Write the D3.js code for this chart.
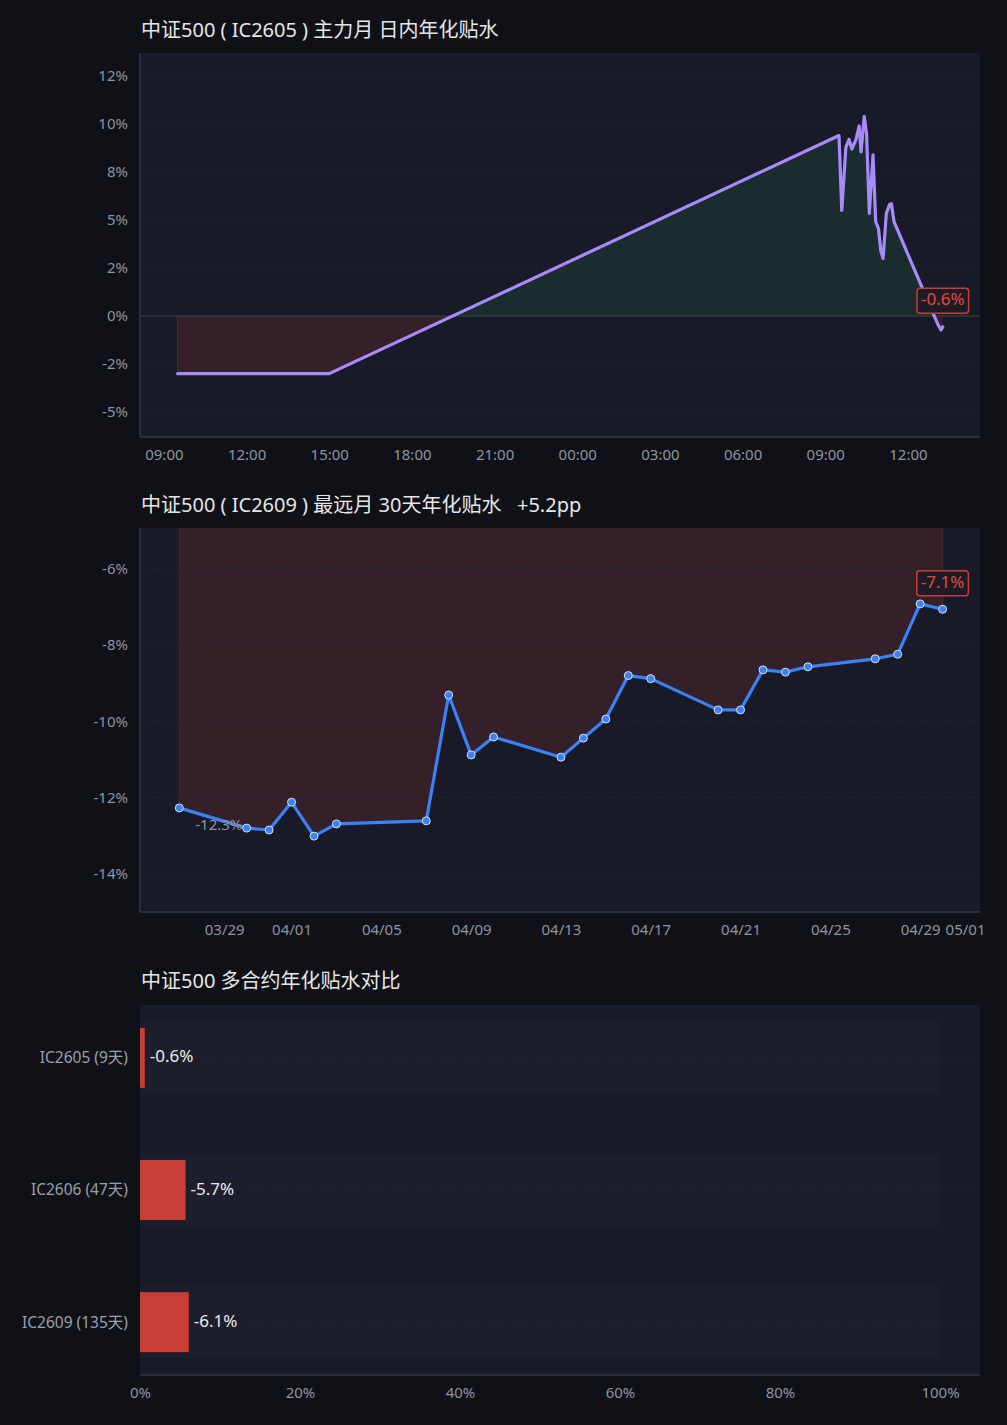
<!DOCTYPE html>
<html>
<head>
<meta charset="utf-8">
<script src="https://cdn.jsdelivr.net/npm/d3@7"></script>
<style>
  body { margin: 0; background: #0f1116; }
  svg { display: block; font-family: "Noto Sans", "Noto Sans CJK SC", sans-serif; }
</style>
</head>
<body>
<div id="wrapper"></div>
<script>
// 1. Data

// intraday annualised basis, IC2605 (two sessions, night gap drawn straight)
const intradayTimes = [
  "2026-04-29 09:30", "2026-04-29 15:00",
  "2026-04-30 09:30", "2026-04-30 09:36", "2026-04-30 09:45", "2026-04-30 09:52",
  "2026-04-30 09:58", "2026-04-30 10:07", "2026-04-30 10:14", "2026-04-30 10:18",
  "2026-04-30 10:25", "2026-04-30 10:30", "2026-04-30 10:36", "2026-04-30 10:44",
  "2026-04-30 10:50", "2026-04-30 10:56", "2026-04-30 11:01", "2026-04-30 11:06",
  "2026-04-30 11:13", "2026-04-30 11:20", "2026-04-30 11:24", "2026-04-30 11:30",
  "2026-04-30 13:00", "2026-04-30 13:06", "2026-04-30 13:12", "2026-04-30 13:16"
]
const intradayValues = [
  -3.0, -3.0,
  9.4, 5.5, 8.8, 9.2,
  8.7, 9.2, 9.9, 8.55,
  10.4, 9.5, 5.35, 8.4,
  4.9, 4.55, 3.4, 3.0,
  5.35, 5.8, 5.85, 4.9,
  -0.15, -0.47, -0.73, -0.56
]
const intradayTickValues = [-5, -2.5, 0, 2.5, 5, 7.5, 10, 12.5]
const intradayTickLabels = ["-5%", "-2%", "0%", "2%", "5%", "8%", "10%", "12%"]

// 30-day annualised basis, IC2609
const farDates = [
  "2026-03-27", "2026-03-30", "2026-03-31", "2026-04-01", "2026-04-02", "2026-04-03",
  "2026-04-07", "2026-04-08", "2026-04-09", "2026-04-10", "2026-04-13", "2026-04-14",
  "2026-04-15", "2026-04-16", "2026-04-17", "2026-04-20", "2026-04-21", "2026-04-22",
  "2026-04-23", "2026-04-24", "2026-04-27", "2026-04-28", "2026-04-29", "2026-04-30"
]
const farValues = [
  -12.27, -12.80, -12.85, -12.12, -13.01, -12.69,
  -12.61, -9.31, -10.88, -10.41, -10.94, -10.44,
  -9.94, -8.80, -8.88, -9.70, -9.70, -8.65,
  -8.71, -8.57, -8.36, -8.24, -6.92, -7.06
]
const farTickValues = [-14, -12, -10, -8, -6]

// contract comparison
const contracts = ["IC2605 (9天)", "IC2606 (47天)", "IC2609 (135天)"]
const contractValues = [-0.6, -5.7, -6.1]
const barTickValues = [0, 20, 40, 60, 80, 100]

// 2. Dimensions & colours

const width = 1007
const height = 1425
const plotLeft = 140
const plotRight = 980

const colors = {
  page: "#0f1116",
  plot: "#181b27",
  axis: "#2b2e3b",
  grid: "#242835",
  tick: "#8e94a3",
  title: "#e6e6e6",
  purple: "#a78bfa",
  blue: "#3b82f6",
  red: "#c73e36",
  redText: "#e5483d",
  posFill: "#1a2c2e",
  negFill: "#35202a",
  track: "#1c1f2b",
}

const parseTime = d3.timeParse("%Y-%m-%d %H:%M")
const parseDay = d3.timeParse("%Y-%m-%d")
// plain hyphen for negatives, as in the source chart
const locale = d3.formatLocale({ decimal: ".", thousands: ",", grouping: [3], currency: ["", ""], minus: "-" })
const fmt1 = locale.format(".1f")

const svg = d3.select("#wrapper")
  .append("svg")
    .attr("width", width)
    .attr("height", height)

svg.append("rect")
    .attr("width", width)
    .attr("height", height)
    .attr("fill", colors.page)

const defs = svg.append("defs")

function drawTitle(text, y) {
  svg.append("text")
      .attr("x", 141)
      .attr("y", y)
      .attr("dominant-baseline", "middle")
      .attr("fill", colors.title)
      .style("font-size", "20px")
      .style("white-space", "pre")
      .text(text)
}

function drawPlotBg(top, bottom) {
  svg.append("rect")
      .attr("x", plotLeft)
      .attr("y", top)
      .attr("width", plotRight - plotLeft)
      .attr("height", bottom - top)
      .attr("fill", colors.plot)
}

function styleAxis(g) {
  g.select(".domain").remove()
  g.selectAll(".tick line").remove()
  g.selectAll("text")
      .attr("fill", colors.tick)
      .style("font-size", "15px")
      .style("font-family", "\"Noto Sans\", \"Noto Sans CJK SC\", sans-serif")
}

function drawGrid(yScale, values) {
  svg.append("g")
    .selectAll("line")
    .data(values)
    .join("line")
      .attr("x1", plotLeft)
      .attr("x2", plotRight)
      .attr("y1", d => yScale(d))
      .attr("y2", d => yScale(d))
      .attr("stroke", colors.grid)
      .attr("stroke-dasharray", "3 3")
      .attr("stroke-width", 0.8)
}

function drawFrame(top, bottom, leftLine) {
  svg.append("line")
      .attr("x1", plotLeft).attr("x2", plotRight)
      .attr("y1", bottom).attr("y2", bottom)
      .attr("stroke", colors.axis)
      .attr("stroke-width", 2)
  if (leftLine) {
    svg.append("line")
        .attr("x1", plotLeft).attr("x2", plotLeft)
        .attr("y1", top).attr("y2", bottom)
        .attr("stroke", colors.axis)
        .attr("stroke-width", 2)
  }
}

function drawBadge(x, y, text) {
  const g = svg.append("g")
  const label = g.append("text")
      .attr("x", x)
      .attr("y", y)
      .attr("text-anchor", "middle")
      .attr("dominant-baseline", "middle")
      .attr("fill", colors.redText)
      .style("font-size", "17px")
      .text(text)
  const box = label.node().getBBox()
  g.insert("rect", "text")
      .attr("x", box.x - 4)
      .attr("y", y - 12.5)
      .attr("width", box.width + 8)
      .attr("height", 25)
      .attr("rx", 3)
      .attr("fill", "#1d1c26")
      .attr("stroke", colors.red)
      .attr("stroke-width", 1.5)
}

// 3. Panel 1: intraday

function drawIntraday() {
  const top = 53, bottom = 437
  const data = intradayTimes.map((t, i) => ({ t: parseTime(t), v: intradayValues[i] }))

  drawTitle("中证500 ( IC2605 ) 主力月 日内年化贴水", 32)
  drawPlotBg(top, bottom)

  const xScale = d3.scaleTime()
    .domain([parseTime("2026-04-29 08:08"), parseTime("2026-04-30 14:37")])
    .range([plotLeft, plotRight])
  const yScale = d3.scaleLinear()
    .domain([-6.3, 13.7])
    .range([bottom, top])

  drawGrid(yScale, intradayTickValues.filter(d => d !== 0))

  const y0 = yScale(0)
  defs.append("clipPath").attr("id", "clip-pos")
    .append("rect").attr("x", plotLeft).attr("y", top)
      .attr("width", plotRight - plotLeft).attr("height", y0 - top)
  defs.append("clipPath").attr("id", "clip-neg")
    .append("rect").attr("x", plotLeft).attr("y", y0)
      .attr("width", plotRight - plotLeft).attr("height", bottom - y0)

  const area = d3.area()
    .x(d => xScale(d.t))
    .y0(y0)
    .y1(d => yScale(d.v))

  svg.append("path")
      .datum(data)
      .attr("d", area)
      .attr("fill", colors.posFill)
      .attr("clip-path", "url(#clip-pos)")
  svg.append("path")
      .datum(data)
      .attr("d", area)
      .attr("fill", colors.negFill)
      .attr("clip-path", "url(#clip-neg)")

  // faint left edge of the fill
  svg.append("line")
      .attr("x1", xScale(data[0].t)).attr("x2", xScale(data[0].t))
      .attr("y1", y0).attr("y2", yScale(data[0].v))
      .attr("stroke", "#4a2a33")
      .attr("stroke-width", 1)

  svg.append("line")
      .attr("x1", plotLeft).attr("x2", plotRight)
      .attr("y1", y0).attr("y2", y0)
      .attr("stroke", "#3c4449")
      .attr("stroke-width", 1)

  const line = d3.line()
    .x(d => xScale(d.t))
    .y(d => yScale(d.v))

  svg.append("path")
      .datum(data)
      .attr("d", line)
      .attr("fill", "none")
      .attr("stroke", colors.purple)
      .attr("stroke-width", 3.2)
      .attr("stroke-linejoin", "round")
      .attr("stroke-linecap", "round")

  drawFrame(top, bottom, true)

  svg.append("g")
      .attr("transform", `translate(0, ${bottom})`)
      .call(d3.axisBottom(xScale)
        .ticks(d3.timeHour.every(3))
        .tickFormat(d3.timeFormat("%H:%M"))
        .tickSize(0)
        .tickPadding(12))
      .call(styleAxis)

  svg.append("g")
      .attr("transform", `translate(${plotLeft}, 0)`)
      .call(d3.axisLeft(yScale)
        .tickValues(intradayTickValues)
        .tickFormat((d, i) => intradayTickLabels[i])
        .tickSize(0)
        .tickPadding(12))
      .call(styleAxis)

  const last = data[data.length - 1]
  drawBadge(xScale(last.t), yScale(last.v) - 26, fmt1(last.v) + "%")
}

// 4. Panel 2: far month

function drawFar() {
  const top = 528, bottom = 912
  const data = farDates.map((d, i) => ({ t: parseDay(d), v: farValues[i] }))
  const first = data[0], last = data[data.length - 1]
  const diff = last.v - first.v

  drawTitle(`中证500 ( IC2609 ) 最远月 30天年化贴水   ${diff >= 0 ? "+" : ""}${fmt1(diff)}pp`, 507)
  drawPlotBg(top, bottom)

  const xScale = d3.scaleTime()
    .domain([parseTime("2026-03-25 06:00"), parseTime("2026-05-01 16:00")])
    .range([plotLeft, plotRight])
  const yScale = d3.scaleLinear()
    .domain([-15, -4.93])
    .range([bottom, top])

  defs.append("clipPath").attr("id", "clip-far")
    .append("rect").attr("x", plotLeft).attr("y", top)
      .attr("width", plotRight - plotLeft).attr("height", bottom - top)

  svg.append("path")
      .datum(data)
      .attr("d", d3.area()
        .x(d => xScale(d.t))
        .y0(yScale(0))
        .y1(d => yScale(d.v)))
      .attr("fill", colors.negFill)
      .attr("stroke", "#46262f")
      .attr("stroke-width", 1)
      .attr("clip-path", "url(#clip-far)")

  drawGrid(yScale, farTickValues)

  svg.append("path")
      .datum(data)
      .attr("d", d3.line().x(d => xScale(d.t)).y(d => yScale(d.v)))
      .attr("fill", "none")
      .attr("stroke", colors.blue)
      .attr("stroke-width", 3.2)
      .attr("stroke-linejoin", "round")

  svg.append("g")
    .selectAll("circle")
    .data(data)
    .join("circle")
      .attr("cx", d => xScale(d.t))
      .attr("cy", d => yScale(d.v))
      .attr("r", 4)
      .attr("fill", colors.blue)
      .attr("stroke", "#d6e0ee")
      .attr("stroke-width", 1)

  drawFrame(top, bottom, true)

  svg.append("g")
      .attr("transform", `translate(0, ${bottom})`)
      .call(d3.axisBottom(xScale)
        .ticks(d3.timeDay.every(4))
        .tickFormat(d3.timeFormat("%m/%d"))
        .tickSize(0)
        .tickPadding(12))
      .call(styleAxis)

  svg.append("g")
      .attr("transform", `translate(${plotLeft}, 0)`)
      .call(d3.axisLeft(yScale)
        .tickValues(farTickValues)
        .tickFormat(d => d + "%")
        .tickSize(0)
        .tickPadding(12))
      .call(styleAxis)

  svg.append("text")
      .attr("x", xScale(first.t) + 16)
      .attr("y", yScale(first.v) + 18)
      .attr("dominant-baseline", "middle")
      .attr("fill", colors.tick)
      .style("font-size", "15px")
      .text(fmt1(first.v) + "%")

  drawBadge(xScale(last.t), yScale(last.v) - 26, fmt1(last.v) + "%")
}

// 5. Panel 3: contract comparison

function drawBars() {
  const top = 1005, bottom = 1375

  drawTitle("中证500 多合约年化贴水对比", 983)
  drawPlotBg(top, bottom)

  const xScale = d3.scaleLinear()
    .domain([0, 105])
    .range([plotLeft, plotRight])
  const yScale = d3.scalePoint()
    .domain(contracts)
    .range([top, bottom])
    .padding(0.4)

  const rows = svg.append("g")
    .selectAll("g")
    .data(contracts)
    .join("g")

  rows.append("rect")
      .attr("x", xScale(0))
      .attr("y", d => yScale(d) - 36)
      .attr("width", xScale(100) - xScale(0))
      .attr("height", 72)
      .attr("fill", colors.track)

  rows.append("line")
      .attr("x1", plotLeft).attr("x2", plotRight)
      .attr("y1", d => yScale(d)).attr("y2", d => yScale(d))
      .attr("stroke", colors.grid)
      .attr("stroke-dasharray", "3 3")
      .attr("stroke-width", 0.8)

  rows.append("rect")
      .attr("x", xScale(0))
      .attr("y", d => yScale(d) - 30)
      .attr("width", (d, i) => xScale(Math.abs(contractValues[i])) - xScale(0))
      .attr("height", 60)
      .attr("fill", colors.red)

  rows.append("text")
      .attr("x", (d, i) => xScale(Math.abs(contractValues[i])) + 5)
      .attr("y", d => yScale(d))
      .attr("dominant-baseline", "middle")
      .attr("fill", "#ebebeb")
      .style("font-size", "17px")
      .text((d, i) => fmt1(contractValues[i]) + "%")

  drawFrame(top, bottom, false)

  svg.append("g")
      .attr("transform", `translate(0, ${bottom})`)
      .call(d3.axisBottom(xScale)
        .tickValues(barTickValues)
        .tickFormat(d => d + "%")
        .tickSize(0)
        .tickPadding(12))
      .call(styleAxis)

  svg.append("g")
      .attr("transform", `translate(${plotLeft}, 0)`)
      .call(d3.axisLeft(yScale)
        .tickSize(0)
        .tickPadding(12))
      .call(styleAxis)
      .call(g => g.selectAll("text").attr("fill", "#9aa0ad").style("font-size", "15.5px"))
}

drawIntraday()
drawFar()
drawBars()
</script>
</body>
</html>
